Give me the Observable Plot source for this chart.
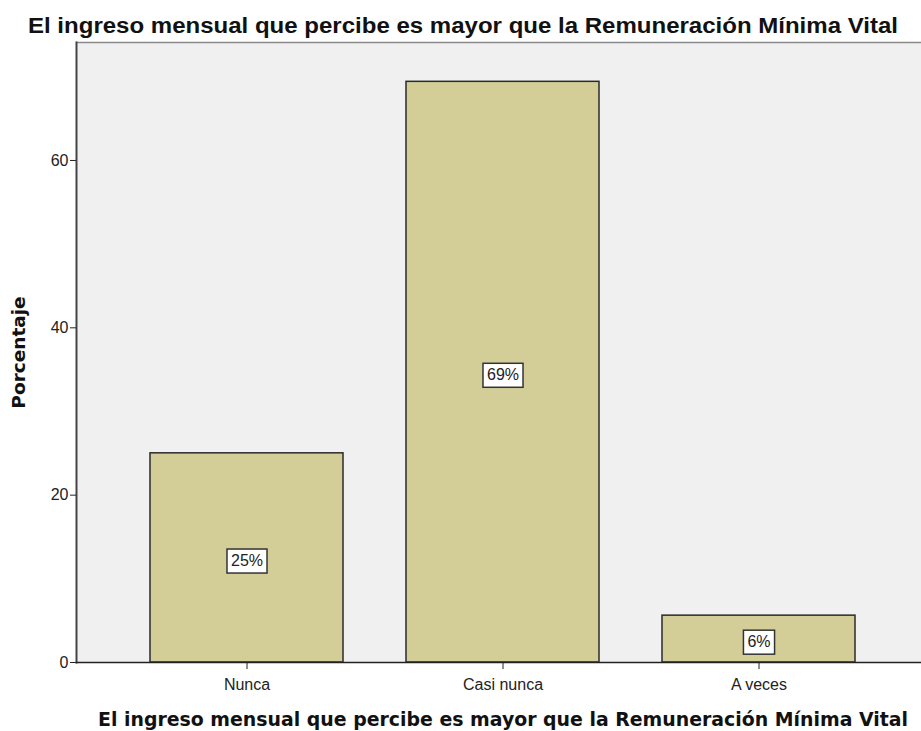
<!DOCTYPE html>
<html>
<head>
<meta charset="utf-8">
<script src="https://cdn.jsdelivr.net/npm/d3@7"></script>
<script src="https://cdn.jsdelivr.net/npm/@observablehq/plot@0.6"></script>
<style>
  html, body { margin: 0; padding: 0; background: #ffffff; }
  #chart svg { display: block; }
</style>
</head>
<body>
<div id="chart"></div>
<script>
const categories = ["Nunca", "Casi nunca", "A veces"];
const percentages = [25.0, 69.4, 5.6];
const labels = ["25%", "69%", "6%"];
const yTicks = [0, 20, 40, 60];
const titleText = "El ingreso mensual que percibe es mayor que la Remuneración Mínima Vital";
const xLabel = "El ingreso mensual que percibe es mayor que la Remuneración Mínima Vital";
const yLabel = "Porcentaje";

const data = categories.map((c, i) => ({cat: c, value: percentages[i], label: labels[i]}));

const chart = Plot.plot({
  width: 921,
  height: 731,
  marginTop: 42,
  marginLeft: 76,
  marginRight: 0,
  marginBottom: 69,
  style: {fontFamily: "'Liberation Sans', Arial, sans-serif", background: "#ffffff", color: "#222"},
  x: {domain: categories, paddingInner: 0.246, paddingOuter: 0.273, align: 0.53, label: null},
  y: {domain: [0, 74.1], label: null},
  marks: [
    Plot.frame({fill: "#f0f0f0", stroke: null}),
    Plot.frame({anchor: "top", stroke: "#8a8a8a", strokeWidth: 1.5}),
    Plot.barY(data, {x: "cat", y: "value", fill: "#d3ce97", stroke: "#2a2a2a", strokeWidth: 1.5}),
    Plot.frame({anchor: "left", stroke: "#444", strokeWidth: 2}),
    Plot.frame({anchor: "bottom", stroke: "#222", strokeWidth: 1.5}),
    Plot.axisY({ticks: yTicks, tickSize: 6, tickPadding: 2, fontSize: 16, stroke: "#222", label: null}),
    Plot.axisX({tickSize: 7, tickPadding: 9, fontSize: 16, stroke: "#222", label: null}),
    Plot.text(data, {x: "cat", y: d => d.value / 2, text: "label", dy: 3, fontSize: 16, fill: "#222"}),
    Plot.text([titleText], {frameAnchor: "top", lineAnchor: "middle", dy: -17, dx: -36, fontSize: 22, fontWeight: "bold", fill: "#111"}),
    Plot.text([xLabel], {frameAnchor: "bottom", lineAnchor: "middle", dy: 57, dx: 4, fontSize: 19, fontWeight: "bold", fill: "#111", fontFamily: "'DejaVu Sans', Verdana, sans-serif"}),
    Plot.text([yLabel], {frameAnchor: "left", textAnchor: "middle", lineAnchor: "middle", dx: -57, rotate: -90, fontSize: 18.5, fontWeight: "bold", fill: "#111", fontFamily: "'DejaVu Sans', Verdana, sans-serif"})
  ]
});

document.getElementById("chart").appendChild(chart);

const svgNS = "http://www.w3.org/2000/svg";
const texts = Array.from(chart.querySelectorAll("text"));

// stretch title and axis label to the reference widths
const big = texts.filter(t => t.textContent === titleText);
if (big.length === 2) {
  big[0].setAttribute("textLength", 870);
  big[0].setAttribute("lengthAdjust", "spacingAndGlyphs");
  big[1].setAttribute("textLength", 810);
  big[1].setAttribute("lengthAdjust", "spacingAndGlyphs");
}

// white boxes behind the percentage labels
texts.filter(t => labels.includes(t.textContent)).forEach(t => {
  const b = t.getBBox();
  const r = document.createElementNS(svgNS, "rect");
  const padX = 4, padY = 4;
  r.setAttribute("x", b.x - padX);
  r.setAttribute("y", b.y - padY + 1);
  r.setAttribute("width", b.width + 2 * padX);
  r.setAttribute("height", b.height + 2 * padY - 1);
  r.setAttribute("fill", "#ffffff");
  r.setAttribute("stroke", "#333");
  r.setAttribute("stroke-width", "1.5");
  const tr = t.getAttribute("transform");
  if (tr) r.setAttribute("transform", tr);
  t.parentNode.insertBefore(r, t);
});
</script>
</body>
</html>
